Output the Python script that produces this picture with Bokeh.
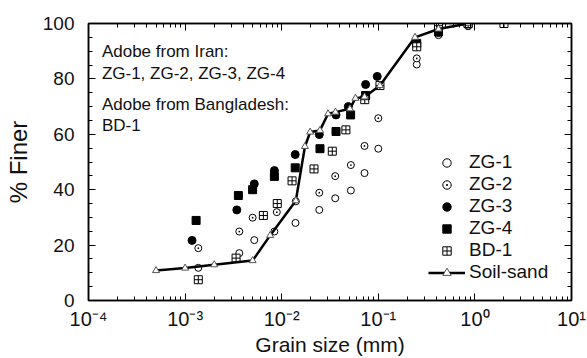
from bokeh.plotting import figure
from bokeh.models import Range1d, FixedTicker, LinearAxis, LogAxis, Label, Legend, LegendItem
from bokeh.embed import file_html
from bokeh.resources import INLINE

# ---- data ----
zg1_x = [1.37e-3, 3.64e-3, 5.2e-3, 8.4e-3, 0.0139, 0.0245, 0.0358, 0.052, 0.072, 0.1, 0.25, 0.42, 0.85]
zg1_y = [11.8, 17.1, 21.8, 24.9, 28.0, 32.7, 36.9, 39.7, 46.0, 54.8, 85.2, 95.8, 99.0]

zg2_x = [1.37e-3, 3.64e-3, 5.0e-3, 8.9e-3, 0.014, 0.0245, 0.0358, 0.052, 0.072, 0.1, 0.25, 0.42, 0.85]
zg2_y = [18.9, 24.9, 29.9, 31.9, 35.8, 38.9, 44.9, 48.9, 55.8, 65.8, 87.4, 96.5, 99.2]

zg3_x = [1.18e-3, 3.43e-3, 5.2e-3, 8.4e-3, 0.0138, 0.0245, 0.0365, 0.0489, 0.0739, 0.0975, 0.25, 0.42, 0.85]
zg3_y = [21.7, 32.7, 42.1, 46.9, 52.7, 59.9, 67.0, 70.0, 78.0, 80.9, 93.0, 97.0, 100.0]

zg4_x = [1.3e-3, 3.56e-3, 5.0e-3, 8.4e-3, 0.0138, 0.0249, 0.0365, 0.0517, 0.0739, 0.25, 0.42, 0.85]
zg4_y = [28.9, 37.9, 40.0, 44.8, 47.9, 54.8, 61.0, 67.0, 74.0, 92.8, 97.0, 100.0]

bd1_x = [1.37e-3, 3.37e-3, 6.46e-3, 9.0e-3, 0.0128, 0.0216, 0.0334, 0.0462, 0.0724, 0.104, 0.25, 0.42, 0.85, 2.0]
bd1_y = [7.5, 15.3, 30.7, 35.0, 43.2, 47.5, 53.9, 61.6, 72.5, 77.6, 91.6, 99.2, 100.0, 100.0]

soil_x = [5e-4, 1e-3, 2e-3, 5e-3, 7.6e-3, 0.014, 0.0174, 0.0197, 0.0249, 0.0302, 0.036, 0.0508, 0.058, 0.072, 0.104, 0.24, 0.42, 0.85]
soil_y = [10.8, 11.7, 12.9, 14.4, 23.5, 36.0, 55.6, 60.8, 61.4, 67.4, 68.0, 69.2, 73.0, 73.5, 77.6, 95.0, 98.0, 100.0]

x_major = [1e-4, 1e-3, 1e-2, 1e-1, 1e0, 1e1]
x_labels = ["10\u207b\u2074", "10\u207b\u00b3", "10\u207b\u00b2", "10\u207b\u00b9", "10\u2070", "10\u00b9"]
y_major = [0, 20, 40, 60, 80, 100]

notes = ["Adobe from Iran:", "ZG-1, ZG-2, ZG-3, ZG-4", "Adobe from Bangladesh:", "BD-1"]
note_y = [90.0, 82.1, 70.6, 63.2]

FONT = "Liberation Sans"

x_minor = [m * d for d in x_major[:-1] for m in range(2, 10)]
y_minor = [v for v in range(5, 100, 5) if v % 20 != 0]

p = figure(width=587, height=358, x_axis_type="log",
           x_range=Range1d(1e-4, 10), y_range=Range1d(0, 100),
           output_backend="svg", toolbar_location=None,
           min_border_left=88, min_border_right=16, min_border_top=23, min_border_bottom=58)
p.background_fill_color = "white"
p.border_fill_color = "white"
p.xgrid.visible = False
p.ygrid.visible = False
p.outline_line_color = "black"
p.outline_line_width = 1.5

xt = FixedTicker(ticks=x_major, minor_ticks=x_minor)
yt = FixedTicker(ticks=y_major, minor_ticks=y_minor)

def style(ax, labels=True):
    ax.axis_line_color = "black"
    ax.axis_line_width = 1.5
    ax.major_tick_in = 7
    ax.major_tick_out = 0
    ax.minor_tick_in = 4
    ax.minor_tick_out = 0
    ax.major_tick_line_color = "black"
    ax.minor_tick_line_color = "black"
    ax.major_tick_line_width = 1
    ax.minor_tick_line_width = 1
    ax.major_label_text_font = FONT
    ax.major_label_text_font_size = "19px" if labels else "0px"
    ax.major_label_text_color = "#111111"
    ax.axis_label_text_font = FONT
    ax.axis_label_text_font_style = "normal"
    ax.axis_label_text_color = "#111111"

xa = p.xaxis[0]
xa.ticker = xt
xa.major_label_overrides = {v: s for v, s in zip(x_major, x_labels)}
xa.major_label_standoff = 7
xa.axis_label = "Grain size (mm)"
xa.axis_label_text_font_size = "21px"
xa.axis_label_standoff = 0
style(xa)
xa.major_label_text_font_size = "20px"

ya = p.yaxis[0]
ya.ticker = yt
ya.major_label_standoff = 14
ya.axis_label = "% Finer"
ya.axis_label_text_font_size = "24px"
ya.axis_label_standoff = 8
style(ya)

top = LogAxis(ticker=xt)
top.major_label_overrides = {v: "" for v in x_major}
style(top, labels=False)
top.major_label_standoff = 0
p.add_layout(top, "above")

right = LinearAxis(ticker=yt)
right.major_label_overrides = {v: "" for v in y_major}
style(right, labels=False)
right.major_label_standoff = 0
p.add_layout(right, "right")

r1 = p.scatter(zg1_x, zg1_y, marker="circle", size=7, fill_color="white", line_color="black", line_width=1)
r2 = p.scatter(zg2_x, zg2_y, marker="circle_dot", size=7, fill_color="white", line_color="black", line_width=1)
r3 = p.scatter(zg3_x, zg3_y, marker="circle", size=8, fill_color="black", line_color="black")
r4 = p.scatter(zg4_x, zg4_y, marker="square", size=8, fill_color="black", line_color="black")
r5 = p.scatter(bd1_x, bd1_y, marker="square_cross", size=8, fill_color="white", line_color="black", line_width=1)
r6 = p.line(soil_x, soil_y, line_color="black", line_width=2.5)
r7 = p.scatter(soil_x, soil_y, marker="triangle", size=7, fill_color="white", line_color="#555555", line_width=1)

legend = Legend(items=[
    LegendItem(label="ZG-1", renderers=[r1]),
    LegendItem(label="ZG-2", renderers=[r2]),
    LegendItem(label="ZG-3", renderers=[r3]),
    LegendItem(label="ZG-4", renderers=[r4]),
    LegendItem(label="BD-1", renderers=[r5]),
    LegendItem(label="Soil-sand", renderers=[r6, r7]),
], location=(340, 17), background_fill_alpha=0, border_line_alpha=0,
   padding=0, margin=0, spacing=0, glyph_width=37, glyph_height=21,
   label_height=21, label_standoff=4,
   label_text_font=FONT, label_text_font_size="19px", label_text_color="#111111")
p.add_layout(legend)

for t, yy in zip(notes, note_y):
    p.add_layout(Label(x=1.376e-4, y=yy, text=t, text_font=FONT, text_font_size="17px",
                       text_baseline="alphabetic", text_color="#111111"))

open("out.html", "w").write(file_html(p, INLINE))
